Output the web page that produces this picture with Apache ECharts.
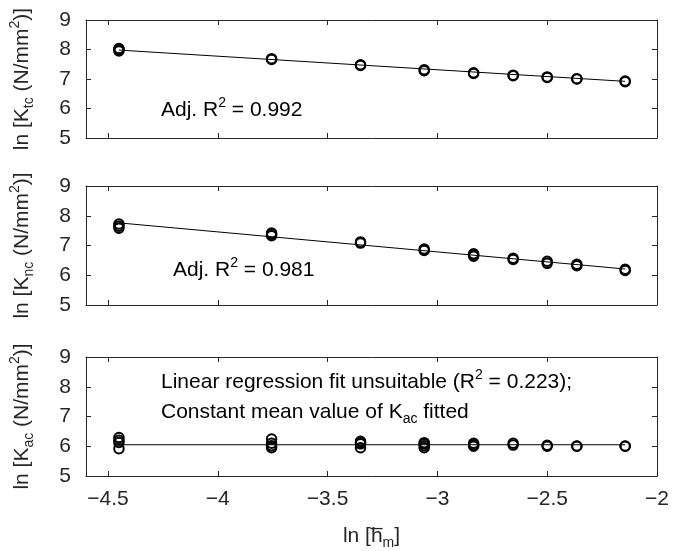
<!DOCTYPE html>
<html>
<head>
<meta charset="utf-8">
<script src="https://cdn.jsdelivr.net/npm/echarts@6/dist/echarts.min.js"></script>
<style>
  html, body { margin: 0; padding: 0; background: #fff; }
  #main { width: 681px; height: 551px; }
</style>
</head>
<body>
<div id="main"></div>
<script>
// ln of mean chip thickness (x positions)
const hLn = [-4.45, -3.755, -3.35, -3.06, -2.835, -2.655, -2.50, -2.365, -2.145];

// replicate measurements at every hLn
const kTc = [[7.95, 8.0, 8.03], [7.66, 7.69], [7.46, 7.48], [7.28, 7.31], [7.19, 7.21], [7.11, 7.13], [7.05, 7.07], [7.0, 7.01], [6.91, 6.93]];
const kNc = [[7.58, 7.65, 7.72], [7.33, 7.38, 7.42], [7.08, 7.12], [6.83, 6.88], [6.64, 6.68, 6.72], [6.53, 6.57], [6.40, 6.47], [6.32, 6.37], [6.16, 6.20]];
const kAc = [[5.92, 6.13, 6.2, 6.29], [5.95, 6.02, 6.1, 6.24], [5.95, 6.08, 6.12, 6.17], [5.95, 6.02, 6.08, 6.12], [6.0, 6.05, 6.1], [6.04, 6.1], [6.0, 6.03], [6.0, 6.01], [6.0, 6.01]];

// fitted lines: [x, y] end points
const fitTc = [[-4.45, 7.98], [-2.145, 6.92]];
const fitNc = [[-4.45, 7.76], [-2.145, 6.21]];
const fitAc = [[-4.45, 6.05], [-2.145, 6.05]];

const xTicks = [-4.5, -4, -3.5, -3, -2.5, -2];

const FONT = 'Liberation Sans, Arial, Helvetica, sans-serif';
const TXT = '#262626';

function pairs(vals) {
  const out = [];
  hLn.forEach((x, i) => vals[i].forEach(v => out.push([x, v])));
  return out;
}

const chart = echarts.init(document.getElementById('main'), null, { renderer: 'canvas' });

const grids = [
  { left: 84, width: 573, top: 20, height: 118 },
  { left: 84, width: 573, top: 186, height: 119 },
  { left: 84, width: 573, top: 357, height: 120 }
];

const richBase = {
  a: { fontSize: 21, fontFamily: FONT, color: TXT, lineHeight: 28 },
  s: { fontSize: 14, fontFamily: FONT, color: TXT, lineHeight: 12, verticalAlign: 'bottom' },
  p: { fontSize: 14, fontFamily: FONT, color: TXT, lineHeight: 16, verticalAlign: 'top' }
};

const yNames = [
  '{a|ln [K}{s|tc}{a| (N/mm}{p|2}{a|)]}',
  '{a|ln [K}{s|nc}{a| (N/mm}{p|2}{a|)]}',
  '{a|ln [K}{s|ac}{a| (N/mm}{p|2}{a|)]}'
];

const xAxes = [];
const yAxes = [];
grids.forEach((g, i) => {
  const last = i === 2;
  const common = {
    type: 'value', gridIndex: i, min: -4.6, max: -2,
    axisLine: { lineStyle: { color: TXT, width: 1 } },
    axisTick: { inside: true, length: 5, lineStyle: { color: TXT }, customValues: xTicks },
    splitLine: { show: false }
  };
  xAxes.push(Object.assign({}, common, {
    position: 'bottom',
    axisLabel: {
      show: last, fontSize: 21, fontFamily: FONT, color: TXT, margin: 13,
      customValues: xTicks,
      formatter: v => String(v).replace('-', '\u2212')
    },
    name: last ? '{a|ln [h\u0305}{s|m}{a|]}' : '',
    nameLocation: 'middle', nameGap: 46,
    nameTextStyle: { rich: richBase }
  }));
  xAxes.push(Object.assign({}, common, { position: 'top', axisLabel: { show: false } }));

  const ycommon = {
    type: 'value', gridIndex: i, min: 5, max: 9, interval: 1,
    axisLine: { show: true, lineStyle: { color: TXT, width: 1 } },
    axisTick: { show: true, inside: true, length: 5, lineStyle: { color: TXT } },
    splitLine: { show: false }
  };
  yAxes.push(Object.assign({}, ycommon, {
    position: 'left',
    axisLabel: { fontSize: 21, fontFamily: FONT, color: TXT, margin: 15 },
    name: yNames[i], nameLocation: 'middle', nameRotate: 90, nameGap: 50,
    nameTextStyle: { rich: richBase }
  }));
  yAxes.push(Object.assign({}, ycommon, { position: 'right', axisLabel: { show: false } }));
});

const dots = [kTc, kNc, kAc];
const fits = [fitTc, fitNc, fitAc];
const series = [];
dots.forEach((d, i) => {
  series.push({
    type: 'scatter', xAxisIndex: i * 2, yAxisIndex: i * 2,
    data: pairs(d), symbol: 'circle', symbolSize: 9.5,
    itemStyle: { color: 'rgba(0,0,0,0)', borderColor: '#000', borderWidth: 2, opacity: 1 },
    z: 3
  });
  series.push({
    type: 'line', xAxisIndex: i * 2, yAxisIndex: i * 2,
    data: fits[i], showSymbol: false, symbol: 'none',
    lineStyle: { color: '#000', width: 1 }, z: 2
  });
});

function note(x, y, text) {
  return {
    type: 'text', x: x, y: y,
    style: { text: text, rich: richBase, textAlign: 'left', textVerticalAlign: 'middle' }
  };
}

chart.setOption({
  animation: false,
  backgroundColor: '#fff',
  grid: grids,
  xAxis: xAxes,
  yAxis: yAxes,
  series: series,
  graphic: [
    note(161, 110, '{a|Adj. R}{p|2}{a| = 0.992}'),
    note(173, 270, '{a|Adj. R}{p|2}{a| = 0.981}'),
    note(161, 382, '{a|Linear regression fit unsuitable (R}{p|2}{a| = 0.223);}'),
    note(161, 412, '{a|Constant mean value of K}{s|ac}{a| fitted}')
  ]
});
</script>
</body>
</html>
